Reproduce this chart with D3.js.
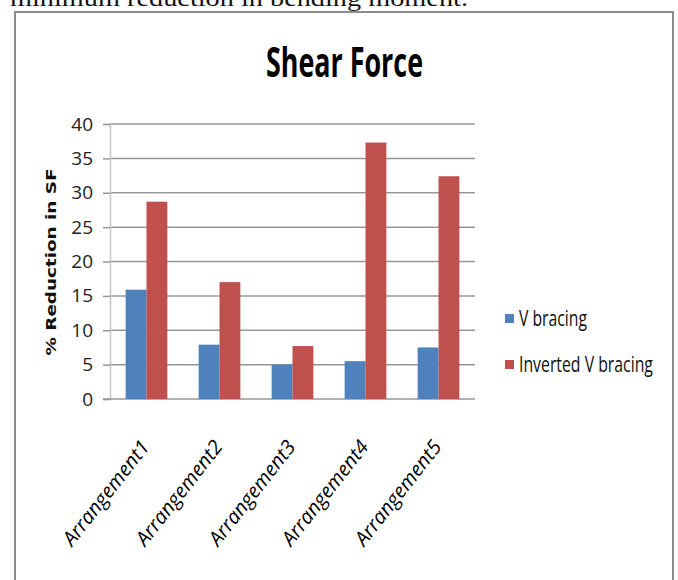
<!DOCTYPE html>
<html>
<head>
<meta charset="utf-8">
<script src="https://cdn.jsdelivr.net/npm/d3@7"></script>
<style>
  html, body { margin: 0; padding: 0; background: #fff; }
  svg { display: block; }
</style>
</head>
<body>
<svg id="chart" width="678" height="580"></svg>
<script>
const categories = ["Arrangement1", "Arrangement2", "Arrangement3", "Arrangement4", "Arrangement5"];
const seriesNames = ["V bracing", "Inverted V bracing"];
const vBracing = [15.9, 7.9, 5.0, 5.5, 7.5];
const invertedVBracing = [28.7, 17.0, 7.7, 37.3, 32.4];
const yTicks = [0, 5, 10, 15, 20, 25, 30, 35, 40];
const colors = ["#4F81BD", "#C0504D"];

const svg = d3.select("#chart");

// clipped caption of surrounding document
svg.append("text")
  .attr("x", 10).attr("y", 6)
  .attr("font-family", "'Liberation Serif', 'DejaVu Serif', serif")
  .attr("font-size", 23)
  .attr("textLength", 458).attr("lengthAdjust", "spacingAndGlyphs")
  .attr("fill", "#111")
  .text("minimum reduction in bending moment.");

// chart border
svg.append("rect")
  .attr("x", 15).attr("y", 12).attr("width", 658).attr("height", 600)
  .attr("fill", "#fff").attr("stroke", "#8c8c8c").attr("stroke-width", 2);

const plot = { left: 110, right: 475, top: 124, bottom: 399 };

const x0 = d3.scaleBand().domain(categories).range([plot.left, plot.right]).paddingInner(0).paddingOuter(0);
const barW = x0.bandwidth() / 3.5;
const x1 = d3.scaleBand().domain(seriesNames).range([0, barW * 2]);
const y = d3.scaleLinear().domain([0, 40]).range([plot.bottom, plot.top]);

// gridlines
svg.append("g").selectAll("line").data(yTicks.filter(d => d > 0)).join("line")
  .attr("x1", plot.left).attr("x2", plot.right)
  .attr("y1", d => y(d)).attr("y2", d => y(d))
  .attr("stroke", "#979797").attr("stroke-width", 1.5);

// y axis
const yAxis = d3.axisLeft(y).tickValues(yTicks).tickSize(7).tickPadding(10).tickFormat(d3.format("d"));
const gy = svg.append("g").attr("transform", `translate(${plot.left},0)`).call(yAxis);
gy.select(".domain").attr("stroke", "#c4c4c4").attr("stroke-width", 1.5);
gy.selectAll(".tick line").attr("stroke", "#979797").attr("stroke-width", 1.5);
gy.selectAll(".tick text")
  .attr("font-family", "'Open Sans', sans-serif")
  .attr("font-size", 19).attr("fill", "#222");

// x axis baseline
svg.append("line")
  .attr("x1", plot.left - 7).attr("x2", plot.right)
  .attr("y1", y(0)).attr("y2", y(0))
  .attr("stroke", "#979797").attr("stroke-width", 1.5);

// bars
const rows = categories.map((c, i) => ({ cat: c, vals: [vBracing[i], invertedVBracing[i]] }));
const groups = svg.append("g").selectAll("g").data(rows).join("g")
  .attr("transform", d => `translate(${x0(d.cat) + (x0.bandwidth() - barW * 2) / 2},0)`);
groups.selectAll("rect").data(d => d.vals.map((v, j) => ({ name: seriesNames[j], v, j }))).join("rect")
  .attr("x", d => x1(d.name))
  .attr("width", barW)
  .attr("y", d => y(d.v))
  .attr("height", d => y(0) - y(d.v))
  .attr("fill", d => colors[d.j]);

// x labels
svg.append("g").selectAll("text").data(categories).join("text")
  .attr("transform", d => `translate(${x0(d) + x0.bandwidth() / 2 + 4},447) rotate(-52)`)
  .attr("text-anchor", "end")
  .attr("font-family", "'Open Sans', sans-serif")
  .attr("font-style", "italic")
  .attr("font-size", 20)
  .attr("textLength", 127).attr("lengthAdjust", "spacingAndGlyphs")
  .attr("fill", "#000")
  .text(d => d);

// title
svg.append("text")
  .attr("x", 344.5).attr("y", 77)
  .attr("text-anchor", "middle")
  .attr("font-family", "'Open Sans', sans-serif")
  .attr("font-weight", "bold")
  .attr("font-size", 41)
  .attr("textLength", 157).attr("lengthAdjust", "spacingAndGlyphs")
  .attr("fill", "#000")
  .text("Shear Force");

// y axis title
svg.append("text")
  .attr("transform", "translate(56,262) rotate(-90)")
  .attr("text-anchor", "middle")
  .attr("font-family", "'DejaVu Sans', Verdana, sans-serif")
  .attr("font-weight", "bold")
  .attr("font-size", 14)
  .attr("textLength", 187).attr("lengthAdjust", "spacingAndGlyphs")
  .attr("fill", "#111")
  .text("% Reduction in SF");

// legend
const legendY = [319, 365];
const legendW = [68, 134];
const lg = svg.append("g").selectAll("g").data(seriesNames).join("g")
  .attr("transform", (d, i) => `translate(505,${legendY[i]})`);
lg.append("rect").attr("x", 0).attr("y", -5).attr("width", 9).attr("height", 9)
  .attr("fill", (d, i) => colors[i]);
lg.append("text")
  .attr("font-family", "'Open Sans', sans-serif")
  .attr("font-size", 21)
  .attr("fill", "#111")
  .text(d => d)
  .each(function(d, i) {
    const natural = this.getComputedTextLength() || legendW[i];
    const sx = legendW[i] / natural;
    d3.select(this).attr("transform", `translate(14,7) scale(${sx},1)`);
  });
</script>
</body>
</html>
